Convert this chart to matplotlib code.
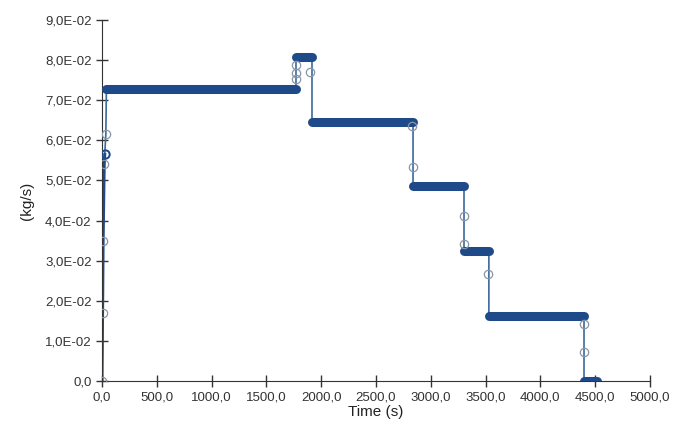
import matplotlib.pyplot as plt

plt.rcParams['font.family'] = ['Liberation Sans', 'DejaVu Sans']

# steady plateaus of the mass flow (s, kg/s)
step_start = [40, 1770, 1916, 2838, 3303, 3530, 4398]
step_end = [1770, 1916, 2838, 3303, 3530, 4398, 4516]
step_flow = [0.0728, 0.0808, 0.0646, 0.0485, 0.0323, 0.0162, 0.0]

# start-up samples
start_t = [0, 5, 10, 20, 25, 35]
start_q = [0.0, 0.0170, 0.0350, 0.0540, 0.0565, 0.0615]

# samples recorded while the flow was changing
ramp_t = [0, 5, 10, 20, 25, 35,
          1770, 1770, 1770, 1900,
          2830, 2835,
          3300, 3302, 3525,
          4395, 4397]
ramp_q = [0.0, 0.0170, 0.0350, 0.0540, 0.0565, 0.0615,
          0.0753, 0.0768, 0.0788, 0.0770,
          0.0636, 0.0534,
          0.0411, 0.0342, 0.0267,
          0.0142, 0.0072]

xticks = [0, 500, 1000, 1500, 2000, 2500, 3000, 3500, 4000, 4500, 5000]
xtick_labels = ["0,0", "500,0", "1000,0", "1500,0", "2000,0", "2500,0",
                "3000,0", "3500,0", "4000,0", "4500,0", "5000,0"]
yticks = [0.0, 0.01, 0.02, 0.03, 0.04, 0.05, 0.06, 0.07, 0.08, 0.09]
ytick_labels = ["0,0", "1,0E-02", "2,0E-02", "3,0E-02", "4,0E-02",
                "5,0E-02", "6,0E-02", "7,0E-02", "8,0E-02", "9,0E-02"]

fig = plt.figure(figsize=(6.86, 4.26), dpi=100)
ax = fig.add_axes([0.1487, 0.1056, 0.7988, 0.8474])

line_col = "#1f4a8a"

# thin connecting line through the step profile
trace_t = start_t + [step_start[0]]
trace_q = start_q + [step_flow[0]]
for s, e, q in zip(step_start, step_end, step_flow):
    trace_t += [s, e]
    trace_q += [q, q]
ax.plot(trace_t, trace_q, color="#3a6a9e", lw=1.2, zorder=2)
ax.plot(start_t[:5], start_q[:5], color=line_col, lw=2.2, zorder=2)

# plateaus drawn as dense sample bands
for s, e, q in zip(step_start, step_end, step_flow):
    ax.plot([s, e], [q, q], color=line_col, lw=6.5, solid_capstyle="round", zorder=3)

ax.plot(ramp_t, ramp_q, ls="none", marker="o", ms=6, mfc="none",
        mec="#8a95a5", mew=0.9, zorder=4)
ax.plot([25], [0.0565], ls="none", marker="o", ms=6, mfc="none",
        mec=line_col, mew=1.4, zorder=4)

ax.set_xlim(0, 5000)
ax.set_ylim(0, 0.09)
ax.set_xticks(xticks)
ax.set_xticklabels(xtick_labels)
ax.set_yticks(yticks)
ax.set_yticklabels(ytick_labels)
ax.tick_params(direction="inout", length=8, width=1, color="#333333",
               labelsize=9.5, labelcolor="#333333")
for side in ["top", "right"]:
    ax.spines[side].set_visible(False)
for side in ["left", "bottom"]:
    ax.spines[side].set_color("#333333")
ax.set_xlabel("Time (s)", fontsize=11, color="#222222", labelpad=1)
ax.set_ylabel("(kg/s)", fontsize=11, color="#222222", labelpad=8)

fig.savefig("out.png", dpi=100)
